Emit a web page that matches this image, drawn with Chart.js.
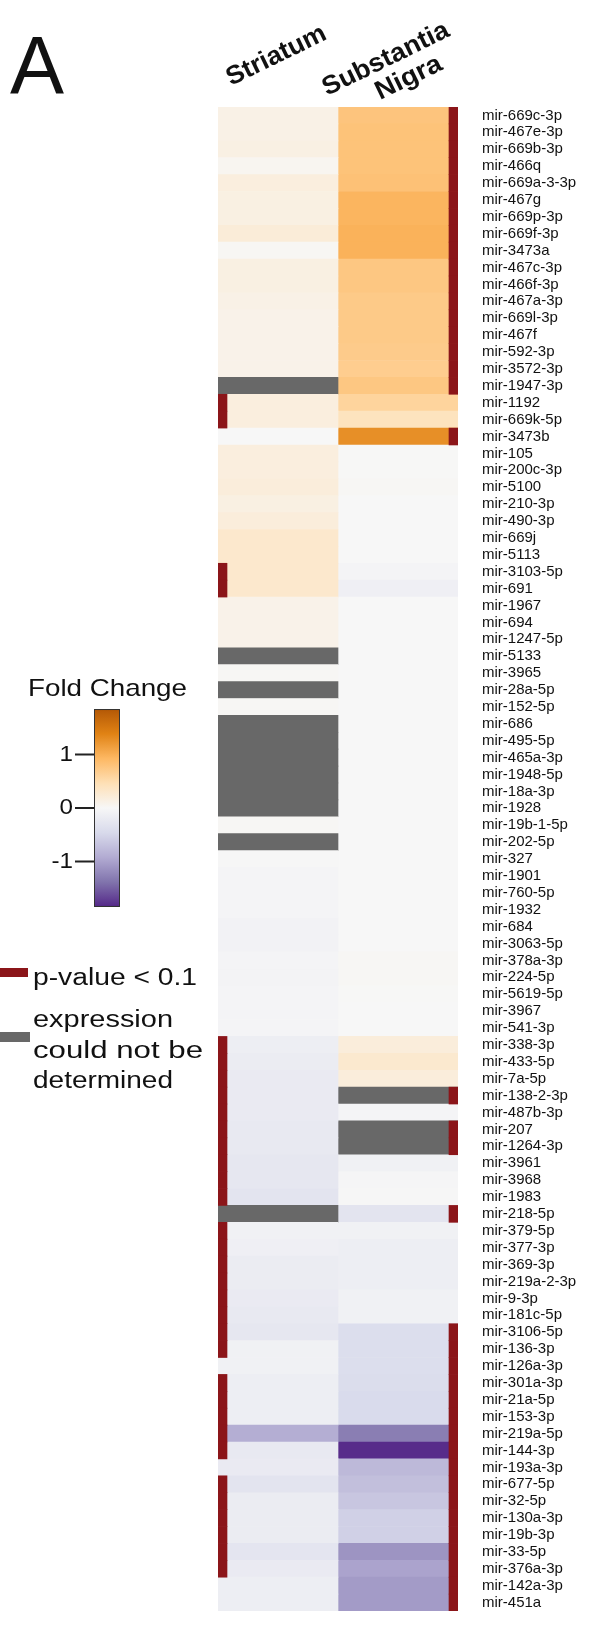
<!DOCTYPE html>
<html>
<head>
<meta charset="utf-8">
<script src="https://cdn.jsdelivr.net/npm/chart.js@4.4.1/dist/chart.umd.min.js"></script>
<style>
html,body{margin:0;padding:0;background:#fff;}
canvas{display:block;}
</style>
</head>
<body>
<canvas id="c" width="601" height="1644"></canvas>
<script>
const labels = ["mir-669c-3p","mir-467e-3p","mir-669b-3p","mir-466q","mir-669a-3-3p","mir-467g","mir-669p-3p","mir-669f-3p","mir-3473a","mir-467c-3p",
"mir-466f-3p","mir-467a-3p","mir-669l-3p","mir-467f","mir-592-3p","mir-3572-3p","mir-1947-3p","mir-1192","mir-669k-5p","mir-3473b",
"mir-105","mir-200c-3p","mir-5100","mir-210-3p","mir-490-3p","mir-669j","mir-5113","mir-3103-5p","mir-691","mir-1967",
"mir-694","mir-1247-5p","mir-5133","mir-3965","mir-28a-5p","mir-152-5p","mir-686","mir-495-5p","mir-465a-3p","mir-1948-5p",
"mir-18a-3p","mir-1928","mir-19b-1-5p","mir-202-5p","mir-327","mir-1901","mir-760-5p","mir-1932","mir-684","mir-3063-5p",
"mir-378a-3p","mir-224-5p","mir-5619-5p","mir-3967","mir-541-3p","mir-338-3p","mir-433-5p","mir-7a-5p","mir-138-2-3p","mir-487b-3p",
"mir-207","mir-1264-3p","mir-3961","mir-3968","mir-1983","mir-218-5p","mir-379-5p","mir-377-3p","mir-369-3p","mir-219a-2-3p",
"mir-9-3p","mir-181c-5p","mir-3106-5p","mir-136-3p","mir-126a-3p","mir-301a-3p","mir-21a-5p","mir-153-3p","mir-219a-5p","mir-144-3p",
"mir-193a-3p","mir-677-5p","mir-32-5p","mir-130a-3p","mir-19b-3p","mir-33-5p","mir-376a-3p","mir-142a-3p","mir-451a"];

// fold change, null = expression could not be determined
const striatum = [0.12,0.12,0.14,0.05,0.18,0.15,0.15,0.22,0.03,0.15,
0.15,0.12,0.1,0.1,0.1,0.1,null,0.18,0.18,0.0,
0.18,0.18,0.2,0.15,0.2,0.3,0.3,0.3,0.3,0.1,
0.1,0.1,null,0.02,null,0.02,null,null,null,null,
null,null,0.02,null,-0.02,-0.04,-0.04,-0.04,-0.08,-0.08,
-0.05,-0.06,-0.05,-0.04,-0.04,-0.15,-0.18,-0.2,-0.2,-0.2,
-0.22,-0.22,-0.25,-0.25,-0.3,null,-0.1,-0.12,-0.18,-0.18,
-0.2,-0.22,-0.25,-0.1,-0.1,-0.15,-0.15,-0.15,-0.9,-0.22,
-0.2,-0.3,-0.18,-0.18,-0.18,-0.28,-0.2,-0.15,-0.15];

const nigra = [0.78,0.8,0.8,0.8,0.82,0.95,0.95,0.98,0.98,0.75,
0.75,0.72,0.72,0.72,0.7,0.68,0.75,0.6,0.4,1.28,
0.01,0.01,0.02,0,0,0,0,-0.04,-0.12,0,
0,0,0,0,0,0,0,0,0,0,
0,0,0,0,0,0,0,0,0,0,
0.02,0.02,0.01,0,0,0.2,0.28,0.2,null,-0.05,
null,null,-0.1,-0.03,-0.02,-0.3,-0.1,-0.15,-0.15,-0.15,
-0.1,-0.1,-0.4,-0.4,-0.4,-0.42,-0.44,-0.44,-1.3,-1.82,
-0.79,-0.73,-0.66,-0.56,-0.56,-1.12,-0.99,-1.06,-1.06];

// p-value < 0.1 flags
const striatumSig = [0,0,0,0,0,0,0,0,0,0, 0,0,0,0,0,0,0,1,1,0, 0,0,0,0,0,0,0,1,1,0,
0,0,0,0,0,0,0,0,0,0, 0,0,0,0,0,0,0,0,0,0, 0,0,0,0,0,1,1,1,1,1,
1,1,1,1,1,0,1,1,1,1, 1,1,1,1,0,1,1,1,1,1, 0,1,1,1,1,1,1,0,0];
const nigraSig = [1,1,1,1,1,1,1,1,1,1, 1,1,1,1,1,1,1,0,0,1, 0,0,0,0,0,0,0,0,0,0,
0,0,0,0,0,0,0,0,0,0, 0,0,0,0,0,0,0,0,0,0, 0,0,0,0,0,0,0,0,1,0,
1,1,0,0,0,1,0,0,0,0, 0,0,1,1,1,1,1,1,1,1, 1,1,1,1,1,1,1,1,1];

const colorTicks = [1, 0, -1];

const STOPS = [[-1.85,[84,39,136]],[-1.39,[128,115,172]],[-0.925,[178,171,210]],[-0.46,[216,218,235]],
[0,[247,247,247]],[0.46,[254,224,182]],[0.925,[253,184,99]],[1.39,[224,130,20]],[1.85,[179,88,6]]];
const GRAY = '#686868', RED = '#8b1519';
function cmap(v){
  if (v === null) return GRAY;
  if (v <= STOPS[0][0]) v = STOPS[0][0];
  if (v >= STOPS[STOPS.length-1][0]) v = STOPS[STOPS.length-1][0];
  for (let i=0;i<STOPS.length-1;i++){
    const [a,ca]=STOPS[i],[b,cb]=STOPS[i+1];
    if (v>=a && v<=b){
      const t=(v-a)/(b-a);
      const c=ca.map((x,k)=>Math.round(x+(cb[k]-x)*t));
      return `rgb(${c[0]},${c[1]},${c[2]})`;
    }
  }
  return GRAY;
}

const SIGW = 0.075;
const decor = {
  id: 'decor',
  afterDraw(chart){
    const c = chart.ctx;
    function txt(s,x,y,font,o={}){
      c.save(); c.translate(x,y); if(o.rot) c.rotate(o.rot);
      c.font=font; c.fillStyle='#111';
      c.textAlign=o.align||'left'; c.textBaseline=o.base||'alphabetic';
      let sx=o.sx||1; if(o.w){ sx=o.w/c.measureText(s).width; }
      c.scale(sx,1); c.fillText(s,0,0); c.restore();
    }
    const F='"Liberation Sans", Arial, sans-serif';
    txt('A', 10, 93, '81px '+F);
    const rot = -26*Math.PI/180;
    txt('Striatum', 231, 86, 'bold 26px '+F, {rot, w:108});
    txt('Substantia', 327, 96, 'bold 26px '+F, {rot, w:138});
    txt('Nigra', 380, 100, 'bold 26px '+F, {rot, w:71});
    // colour bar
    txt('Fold Change', 28, 696, '24px '+F, {w:159});
    const zeroY = 808, unit = 53.5, top = zeroY-1.85*unit, bot = zeroY+1.85*unit;
    const g = c.createLinearGradient(0,top,0,bot);
    STOPS.forEach(([v])=>g.addColorStop((1.85-v)/3.7, cmap(v)));
    c.fillStyle=g; c.fillRect(94,top,25,bot-top);
    c.strokeStyle='#333'; c.lineWidth=1; c.strokeRect(94.5,top+0.5,25,bot-top-1);
    colorTicks.forEach(t=>{
      const y = zeroY - t*unit;
      c.fillStyle='#222'; c.fillRect(75,y-1,19,2);
      txt(String(t), 73, y, '22px '+F, {align:'right', base:'middle', sx:1.1});
    });
    // legend
    c.fillStyle=RED; c.fillRect(0,968,28,9);
    txt('p-value < 0.1', 33, 985, '23px '+F, {w:164});
    c.fillStyle=GRAY; c.fillRect(0,1032,30,10);
    txt('expression', 33, 1027, '23px '+F, {w:140});
    txt('could not be', 33, 1058, '23px '+F, {w:170});
    txt('determined', 33, 1088, '23px '+F, {w:140});
  }
};

new Chart(document.getElementById('c'), {
  type: 'bar',
  data: {
    labels,
    datasets: [
      { label:'Striatum p', data: striatumSig.map(s=>s?[0,SIGW]:null), backgroundColor: RED, order: 1 },
      { label:'Substantia Nigra p', data: nigraSig.map(s=>s?[2-SIGW,2]:null), backgroundColor: RED, order: 1 },
      { label:'Striatum', data: striatum.map(()=>[0,1]), backgroundColor: striatum.map(cmap), order: 2 },
      { label:'Substantia Nigra', data: nigra.map(()=>[1,2]), backgroundColor: nigra.map(cmap), order: 2 }
    ]
  },
  options: {
    indexAxis: 'y',
    responsive: false,
    animation: false,
    layout: { padding: { left: 218, top: 107, right: 0, bottom: 0 } },
    datasets: { bar: { categoryPercentage: 1, barPercentage: 1, grouped: false, borderWidth: 0 } },
    scales: {
      x: { type: 'linear', min: 0, max: 2, display: false },
      y: { type: 'category', position: 'right',
           grid: { display: false, drawTicks: false }, border: { display: false },
           ticks: { autoSkip: false, padding: 24, color: '#111',
                    font: { family: '"Liberation Sans", Arial, sans-serif', size: 15 } },
           afterFit(s){ s.width = 143; } }
    },
    plugins: { legend: { display: false }, tooltip: { enabled: false } }
  },
  plugins: [decor]
});
</script>
</body>
</html>
